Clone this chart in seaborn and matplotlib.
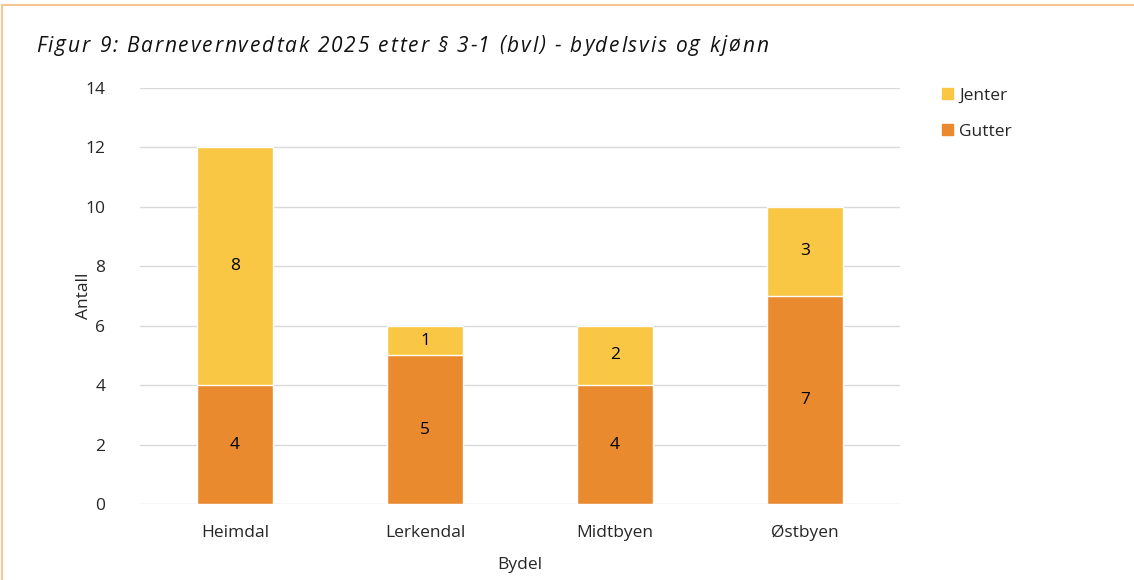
import seaborn as sns
import matplotlib.pyplot as plt
import pandas as pd
from matplotlib.patches import Rectangle, Patch
from matplotlib.font_manager import FontProperties

bydeler = ["Heimdal", "Lerkendal", "Midtbyen", "Østbyen"]
gutter = [4, 5, 4, 7]
jenter = [8, 1, 2, 3]

col_gutter = "#E98A2F"
col_jenter = "#F9C744"
tittel = "Figur 9: Barnevernvedtak 2025 etter § 3-1 (bvl) - bydelsvis og kjønn"

df = pd.DataFrame({"Bydel": bydeler, "Gutter": gutter, "Jenter": jenter})
df["Totalt"] = df["Gutter"] + df["Jenter"]

sns.set_style("white")
plt.rcParams["font.family"] = ["Open Sans", "DejaVu Sans"]

W, H = 1134, 580
fig = plt.figure(figsize=(W / 100, H / 100), dpi=100)
ax = fig.add_axes([140 / W, 76 / H, 760 / W, 416 / H])

# stacked: total first (jenter colour), gutter drawn over it from 0
sns.barplot(data=df, x="Bydel", y="Totalt", color=col_jenter, width=0.4,
            saturation=1, ax=ax, zorder=2)
sns.barplot(data=df, x="Bydel", y="Gutter", color=col_gutter, width=0.4,
            saturation=1, ax=ax, zorder=3)

for i, (g, j) in enumerate(zip(gutter, jenter)):
    ax.text(i, g / 2, str(g), ha="center", va="center", fontsize=12.5, color="black", zorder=4)
    ax.text(i, g + j / 2, str(j), ha="center", va="center", fontsize=12.5, color="black", zorder=4)

ax.set_ylim(0, 14)
ax.set_xlim(-0.5, 3.5)
ax.set_yticks(range(0, 15, 2))
ax.yaxis.grid(True, color="#D9D9D9", linewidth=1, zorder=0)
ax.set_axisbelow(True)
for s in ax.spines.values():
    s.set_visible(False)
ax.tick_params(axis="y", length=0, labelsize=12.5, pad=25)
ax.tick_params(axis="x", length=0, labelsize=12.5, pad=15)
ax.set_xlabel("Bydel", fontsize=12.5)
ax.set_ylabel("Antall", fontsize=12.5)
ax.yaxis.set_label_coords((92 - 140) / 760, 0.5)
ax.xaxis.set_label_coords(0.5, (504 - 557) / 416)

# letter-spaced italic title
renderer = fig.canvas.get_renderer()
prop = FontProperties(family=["Open Sans", "DejaVu Sans"], style="italic", size=15)
def tw(s):
    return renderer.get_text_width_height_descent(s, prop, ismath=False)[0]
natural = tw(tittel)
spacing = (732 - natural) / (len(tittel) - 1)
x0 = 36
for i, ch in enumerate(tittel):
    left = tw(tittel[:i] + "x") - tw("x") + i * spacing
    fig.text((x0 + left) / W, 1 - 46 / H, ch, fontproperties=prop,
             va="center", ha="left", color="#111111")

handles = [Patch(color=col_jenter, label="Jenter"), Patch(color=col_gutter, label="Gutter")]
fig.legend(handles=handles, loc="upper left", bbox_to_anchor=(926 / W, 1 - 72 / H),
           frameon=False, fontsize=12.5, handlelength=0.65, handleheight=0.65,
           handletextpad=0.35, labelspacing=1.15)

fig.patches.append(Rectangle((2 / W, -0.1), 1.2, 1 - 5 / H + 0.1, transform=fig.transFigure,
                             fill=False, edgecolor="#F7C693", linewidth=1.5, figure=fig))

fig.savefig("out.png", dpi=100)
